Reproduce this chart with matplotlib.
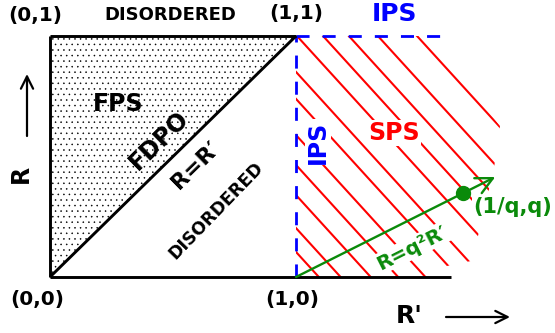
import matplotlib
matplotlib.use("Agg")
import matplotlib.pyplot as plt
from matplotlib.patches import Polygon

# ---------------- data (diagram coordinates: R' horizontal, R vertical) ----------------
fps_x = [0.0, 0.0, 1.0]            # FPS (stippled) triangle
fps_y = [0.0, 1.0, 1.0]
axis_end = 1.63                     # end of the R' axis line
ips_top_end = 1.585                 # end of top IPS dashed line
hatch_top_x = [1.004, 1.110, 1.215, 1.333, 1.492]            # hatch lines starting on R=1
hatch_left_y = [0.851, 0.739, 0.589, 0.465, 0.340, 0.203, 0.104]  # hatch lines starting on R'=1
hatch_slope = -1.12
q_point = (1.68, 0.35)             # (1/q, q)
q_arrow_tip = (1.81, 0.415)

corner_labels = ["(0,1)", "(1,1)", "(0,0)", "(1,0)"]
region_labels = ["DISORDERED", "IPS", "FPS", "FDPO", "R=R\u2032", "DISORDERED", "IPS", "SPS"]

# ---------------- figure ----------------
plt.rcParams['font.family'] = ['DejaVu Sans']
plt.rcParams['hatch.linewidth'] = 0.35
fig = plt.figure(figsize=(5.55, 3.33), dpi=100)
ax = fig.add_axes([0, 0, 1, 1])
ax.set_xlim(-50 / 246, 505 / 246)
ax.set_ylim(-56 / 241, 277 / 241)
ax.axis('off')


def P(px, py):
    """layout helper: image pixel -> axes data position"""
    return ((px - 50) / 246, (277 - py) / 241)


# stippled FPS region
tri = Polygon(list(zip(fps_x, fps_y)), closed=True, facecolor='none',
              edgecolor='black', lw=0, hatch='...', zorder=1)
ax.add_patch(tri)

# black boundary lines
blk = dict(color='black', lw=2.1, solid_capstyle='butt', zorder=4)
ax.plot([0, 0], [0, 1], **blk)
ax.plot([0, 1], [1, 1], **blk)
ax.plot([0, 1], [0, 1], **blk)
ax.plot([0, axis_end], [0, 0], **blk)

# red hatching (SPS), clipped to hatch region
clip = Polygon([P(296, 277), P(296, 36), P(430, 36), P(500, 126), P(494, 168),
                P(478, 236), P(471, 261), P(447, 266), P(430, 277)],
               closed=True, transform=ax.transData)
starts = [(x, 1.0) for x in hatch_top_x] + [(1.0, y) for y in hatch_left_y]
for xs, ys in starts:
    t = 1.5
    ln, = ax.plot([xs, xs + t], [ys, ys + hatch_slope * t], color='#ff0000', lw=1.5, zorder=2)
    ln.set_clip_path(clip)

# blue dashed IPS boundaries
blu = dict(color='#0000ff', lw=2.0, linestyle=(0, (4.7, 4.7)), zorder=3)
ax.plot([1, 1], [0, 1], **blu)
ax.plot([1, ips_top_end], [1, 1], **blu)

# green R = q^2 R' line with point
grn = '#0a8a0a'
ax.annotate('', xy=q_arrow_tip, xytext=(1.0, 0.0),
            arrowprops=dict(arrowstyle='->', color=grn, lw=1.7, mutation_scale=30,
                            shrinkA=0, shrinkB=0), zorder=5)
ax.plot([q_point[0]], [q_point[1]], 'o', color=grn, ms=10, zorder=6)

# ---------------- texts ----------------
bold = dict(fontweight='bold', ha='center', va='center', zorder=7)
wbox = dict(facecolor='white', edgecolor='none', pad=1.0)

ax.text(*P(35, 15), corner_labels[0], fontsize=14.5, color='black', **bold)
ax.text(*P(296, 14), corner_labels[1], fontsize=14.5, color='black', **bold)
ax.text(*P(37, 299), corner_labels[2], fontsize=14.5, color='black', **bold)
ax.text(*P(292, 299), corner_labels[3], fontsize=14.5, color='black', **bold)

ax.text(*P(170, 15), region_labels[0], fontsize=13, color='black', **bold)
ax.text(*P(395, 14), region_labels[1], fontsize=18, color='#0000ff', **bold)
ax.text(*P(118, 104), region_labels[2], fontsize=17, color='black', **bold)
ax.text(*P(159, 140), region_labels[3], fontsize=17, color='black', rotation=44.4, **bold)
ax.text(*P(196, 165), region_labels[4], fontsize=16, color='black', rotation=44.4, **bold)
ax.text(*P(216, 211), region_labels[5], fontsize=12.5, color='black', rotation=46, **bold)
ax.text(*P(318, 142), region_labels[6], fontsize=17, color='#0000ff', rotation=90,
        bbox=wbox, **bold)
ax.text(*P(394, 133), region_labels[7], fontsize=17, color='#ff0000', bbox=wbox, **bold)

ax.text(*P(412, 248), "R=q\u00b2R\u2032", fontsize=14.5, color=grn, rotation=26.8,
        bbox=wbox, **bold)
ax.text(*P(513, 207), "(1/q,q)", fontsize=15, color=grn, bbox=wbox, **bold)

ax.text(*P(409, 316), "R'", fontsize=18, color='black', **bold)
ax.text(*P(21, 174), "R", fontsize=17, color='black', rotation=90, **bold)

# direction arrows
ax.annotate('', xy=P(27, 74), xytext=P(27, 136),
            arrowprops=dict(arrowstyle='->', color='black', lw=1.6, mutation_scale=22,
                            shrinkA=0, shrinkB=0))
ax.annotate('', xy=P(510, 317), xytext=P(446, 317),
            arrowprops=dict(arrowstyle='->', color='black', lw=1.6, mutation_scale=22,
                            shrinkA=0, shrinkB=0))

fig.savefig('out.png', dpi=100)
